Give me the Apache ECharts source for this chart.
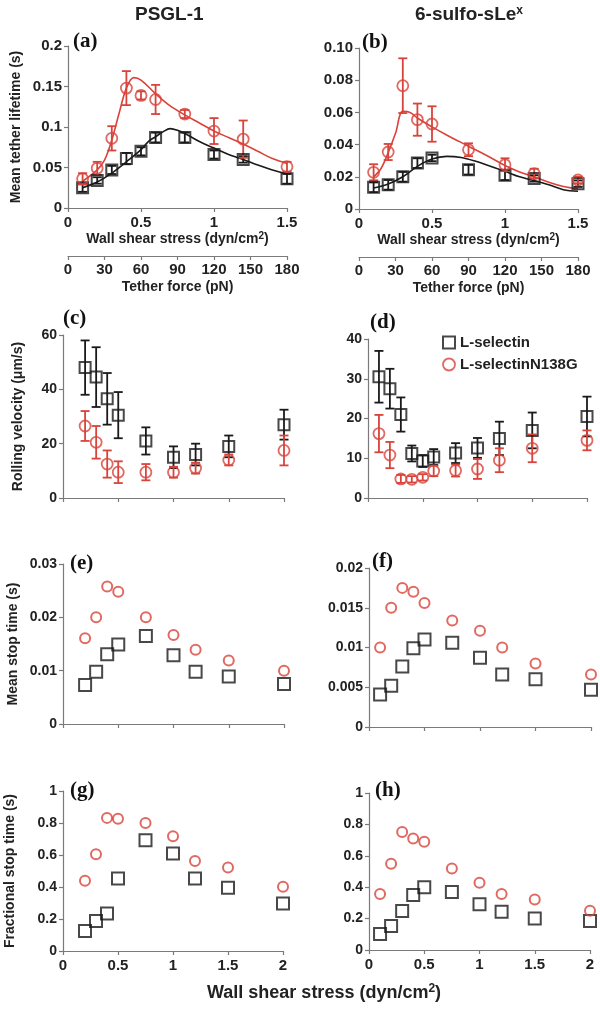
<!DOCTYPE html>
<html>
<head>
<meta charset="utf-8">
<script src="https://cdn.jsdelivr.net/npm/echarts@6/dist/echarts.min.js"></script>
<style>html,body{margin:0;padding:0;background:#fff}#c{width:600px;height:1009px}</style>
</head>
<body>
<div id="c"></div>
<script>
// ---------- DATA ----------
// (a) PSGL-1, mean tether lifetime (s)
const aX = [0.1,0.2,0.3,0.4,0.5,0.6,0.8,1.0,1.2,1.5];
const aBlack = [0.025,0.034,0.047,0.061,0.070,0.087,0.087,0.066,0.060,0.036];
const aBlackErr = [0.005,0.004,0.005,0.007,0.005,0.006,0.006,0.005,0.004,0.006];
const aRed = [0.036,0.049,0.086,0.148,0.139,0.134,0.116,0.095,0.085,0.051];
const aRedErr = [0.007,0.008,0.015,0.021,0.005,0.018,0.005,0.016,0.023,0.006];
const aRedCurveX = [0.1,0.2,0.25,0.3,0.35,0.4,0.45,0.5,0.6,0.7,0.8,0.9,1.0,1.1,1.2,1.3,1.4,1.5];
const aRedCurve = [0.033,0.047,0.059,0.084,0.117,0.148,0.161,0.158,0.141,0.126,0.115,0.105,0.095,0.087,0.079,0.070,0.061,0.055];
const aBlackCurveX = [0.1,0.2,0.3,0.4,0.5,0.55,0.6,0.65,0.7,0.75,0.8,0.9,1.0,1.1,1.2,1.3,1.4,1.5];
const aBlackCurve = [0.025,0.032,0.043,0.057,0.072,0.082,0.088,0.094,0.098,0.096,0.092,0.082,0.074,0.066,0.060,0.053,0.047,0.042];

// (b) 6-sulfo-sLex, mean tether lifetime (s)
const bX = [0.1,0.2,0.3,0.4,0.5,0.75,1.0,1.2,1.5];
const bBlack = [0.0135,0.015,0.020,0.0285,0.0317,0.0244,0.021,0.019,0.0157];
const bBlackErr = [0.003,0.003,0.003,0.003,0.002,0.003,0.003,0.002,0.002];
const bRed = [0.0228,0.0354,0.0766,0.0555,0.0528,0.0368,0.0275,0.022,0.018];
const bRedErr = [0.005,0.005,0.017,0.010,0.011,0.004,0.004,0.003,0.002];
const bRedCurveX = [0.1,0.15,0.2,0.25,0.3,0.35,0.4,0.5,0.6,0.75,0.9,1.0,1.1,1.2,1.3,1.4,1.5];
const bRedCurve = [0.020,0.025,0.035,0.047,0.0607,0.060,0.0565,0.051,0.046,0.039,0.032,0.027,0.023,0.020,0.0166,0.014,0.0126];
const bBlackCurveX = [0.1,0.2,0.3,0.4,0.5,0.6,0.7,0.8,0.9,1.0,1.1,1.2,1.3,1.4,1.5];
const bBlackCurve = [0.013,0.0155,0.020,0.0265,0.031,0.0327,0.032,0.0296,0.0265,0.0234,0.020,0.0176,0.015,0.012,0.011];

// (c) PSGL-1, rolling velocity (um/s)
const cX = [0.2,0.3,0.4,0.5,0.75,1.0,1.2,1.5,2.0];
const cBlack = [48,44.5,36.5,30.5,21,15,16,19,27];
const cBlackErr = [10,11,9.5,8.5,5,4,4,4,5.5];
const cRed = [26.5,20.5,12.5,9.5,9.5,9.5,11,14,17.5];
const cRedErr = [5.5,6,5,4,3,2,2,2,5.5];

// (d) 6-sulfo-sLex, rolling velocity (um/s)
const dX = [0.1,0.2,0.3,0.4,0.5,0.6,0.8,1.0,1.2,1.5,2.0];
const dBlack = [30.5,27.5,21,11.2,9.3,10.3,11.3,12.6,15,17,20.5];
const dBlackErr = [6.5,5,4.3,2,1.5,2,2.5,2.5,4.2,4.5,5];
const dRed = [16.2,10.8,4.8,4.7,5.2,6.8,6.9,7.3,9.5,12.5,14.5];
const dRedErr = [4.7,3.3,1,0.8,0.8,1.3,1.5,2.5,3,3.5,2.5];

// (e) PSGL-1, mean stop time (s)
const eX = [0.2,0.3,0.4,0.5,0.75,1.0,1.2,1.5,2.0];
const eBlack = [0.0073,0.0098,0.0131,0.0149,0.0165,0.0129,0.0098,0.0089,0.0075];
const eRed = [0.0161,0.0200,0.0258,0.0248,0.0200,0.0167,0.0139,0.0119,0.0100];

// (f) 6-sulfo-sLex, mean stop time (s)
const fX = [0.1,0.2,0.3,0.4,0.5,0.75,1.0,1.2,1.5,2.0];
const fBlack = [0.0041,0.0052,0.0076,0.0099,0.0110,0.0106,0.0087,0.0066,0.0060,0.0047];
const fRed = [0.0100,0.0150,0.0175,0.0170,0.0156,0.0134,0.0121,0.0100,0.0080,0.0066];

// (g) PSGL-1, fractional stop time
const gX = [0.2,0.3,0.4,0.5,0.75,1.0,1.2,1.5,2.0];
const gBlack = [0.125,0.187,0.235,0.453,0.692,0.609,0.453,0.395,0.297];
const gRed = [0.439,0.605,0.832,0.827,0.800,0.717,0.563,0.522,0.401];

// (h) 6-sulfo-sLex, fractional stop time
const hX = [0.1,0.2,0.3,0.4,0.5,0.75,1.0,1.2,1.5,2.0];
const hBlack = [0.102,0.153,0.248,0.350,0.400,0.370,0.292,0.244,0.200,0.184];
const hRed = [0.356,0.550,0.752,0.710,0.689,0.519,0.428,0.356,0.322,0.250];

const seriesNames = ['L-selectin','L-selectinN138G'];
const tetherTicks = [0,30,60,90,120,150,180];

// ---------- STYLE ----------
const BLACK = '#1a1a1a', RED = '#d8433b', AXIS = '#7a7a7a', TXT = '#222';
const FONT = '"Liberation Sans", Arial, sans-serif';
const num = v => String(Math.round(v*100000)/100000);

const chart = echarts.init(document.getElementById('c'), null, {renderer:'canvas'});

const grids = [
  {left:68, top:46, width:219, height:162},   // a
  {left:359, top:48, width:219, height:161},  // b
  {left:63, top:335, width:221, height:163},  // c
  {left:368, top:339, width:219, height:159}, // d
  {left:63, top:564, width:221, height:160},  // e
  {left:369, top:568, width:222, height:159}, // f
  {left:63, top:791, width:220, height:160},  // g
  {left:369, top:793, width:221, height:157}  // h
];

function xAx(gi, max, showLabels, name) {
  return {
    type:'value', gridIndex:gi, min:0, max:max, interval:0.5,
    axisLine:{lineStyle:{color:AXIS, width:1.2}},
    axisTick:{show:true, length:4, lineStyle:{color:AXIS, width:1.2}},
    splitLine:{show:false},
    axisLabel:{show:showLabels, formatter:num, color:TXT, fontFamily:FONT, fontWeight:'bold', fontSize:15, margin:7},
    name: name || '', nameLocation:'middle', nameGap:23,
    nameTextStyle:{color:TXT, fontFamily:FONT, fontWeight:'bold', fontSize:14,
      rich:{s:{fontSize:10, fontWeight:'bold', fontFamily:FONT, color:TXT, verticalAlign:'top', padding:[0,0,6,0]}}}
  };
}
function yAx(gi, max, interval, fmt, name, gap, fs) {
  return {
    type:'value', gridIndex:gi, min:0, max:max, interval:interval,
    axisLine:{show:true, lineStyle:{color:AXIS, width:1.2}},
    axisTick:{show:true, length:4, lineStyle:{color:AXIS, width:1.2}},
    splitLine:{show:false},
    axisLabel:{formatter:fmt||num, color:TXT, fontFamily:FONT, fontWeight:'bold', fontSize:fs||14, margin:6},
    name: name || '', nameLocation:'middle', nameGap:gap||40, nameRotate:90,
    nameTextStyle:{color:TXT, fontFamily:FONT, fontWeight:'bold', fontSize:14}
  };
}
const wss = '{n|Wall shear stress (dyn/cm}{s|2}{n|)}';

const xAxes = [
  xAx(0,1.5,true,wss), xAx(1,1.5,true,wss),
  xAx(2,2,false), xAx(3,2,false), xAx(4,2,false), xAx(5,2,false),
  xAx(6,2,true), xAx(7,2,true)
];
// make rich name style "n"
xAxes.forEach(a => { a.nameTextStyle.rich.n = {fontSize:14, fontWeight:'bold', fontFamily:FONT, color:TXT}; });
// secondary tether force axes for (a) and (b)
[0,1].forEach(gi => {
  xAxes.push({
    type:'value', gridIndex:gi, position:'bottom', offset:48, min:tetherTicks[0], max:tetherTicks[tetherTicks.length-1], interval:30,
    axisLine:{show:true, onZero:false, lineStyle:{color:AXIS, width:1.2}},
    axisTick:{show:true, length:4, lineStyle:{color:AXIS, width:1.2}},
    splitLine:{show:false},
    axisLabel:{color:TXT, fontFamily:FONT, fontWeight:'bold', fontSize:15, margin:6},
    name:'Tether force (pN)', nameLocation:'middle', nameGap:24,
    nameTextStyle:{color:TXT, fontFamily:FONT, fontWeight:'bold', fontSize:14}
  });
});

const yAxes = [
  yAx(0,0.2,0.05,null,'Mean tether lifetime (s)',45,15),
  yAx(1,0.10,0.02,v => v===0?'0':v.toFixed(2),'',40,15),
  yAx(2,60,20,null,'Rolling velocity (\u03bcm/s)',38),
  yAx(3,40,10,null,'',40),
  yAx(4,0.03,0.01,null,'Mean stop time (s)',43),
  yAx(5,0.02,0.005,null,'',40),
  yAx(6,1,0.2,null,'Fractional stop time (s)',46),
  yAx(7,1,0.2,null,'',40)
];

const zip = (xs, ys) => xs.map((x,i)=>[x, ys[i]]);
const zipErr = (xs, ys, es) => xs.map((x,i)=>[x, ys[i]-es[i], ys[i]+es[i]]);

function errSeries(gi, xs, ys, es, color) {
  return {
    type:'custom', xAxisIndex:gi, yAxisIndex:gi, silent:true, z:3,
    data: zipErr(xs, ys, es), encode:{x:0, y:[1,2]},
    renderItem: function(params, api) {
      const x = api.value(0), lo = api.value(1), hi = api.value(2);
      const p1 = api.coord([x, lo]), p2 = api.coord([x, hi]);
      const w = 4.5;
      const st = {stroke:color, lineWidth:1.8};
      return {type:'group', children:[
        {type:'line', shape:{x1:p1[0], y1:p1[1], x2:p2[0], y2:p2[1]}, style:st},
        {type:'line', shape:{x1:p1[0]-w, y1:p1[1], x2:p1[0]+w, y2:p1[1]}, style:st},
        {type:'line', shape:{x1:p2[0]-w, y1:p2[1], x2:p2[0]+w, y2:p2[1]}, style:st}
      ]};
    }
  };
}
function sq(gi, xs, ys, size) {
  return {type:'scatter', name:seriesNames[0], xAxisIndex:gi, yAxisIndex:gi, z:4,
    symbol:'rect', symbolSize:size||11, data:zip(xs, ys),
    itemStyle:{color:'rgba(255,255,255,0)', borderColor:BLACK, borderWidth:2}};
}
function circ(gi, xs, ys, size, bw) {
  return {type:'scatter', name:seriesNames[1], xAxisIndex:gi, yAxisIndex:gi, z:5,
    symbol:'circle', symbolSize:size||11, data:zip(xs, ys),
    itemStyle:{color:'rgba(255,255,255,0)', borderColor:RED, borderWidth:bw||1.8}};
}
function curve(gi, xs, ys, color) {
  return {type:'line', xAxisIndex:gi, yAxisIndex:gi, data:zip(xs, ys), smooth:0.35,
    showSymbol:false, silent:true, z:2, lineStyle:{color:color, width:1.6}};
}

const series = [
  curve(0, aBlackCurveX, aBlackCurve, BLACK), curve(0, aRedCurveX, aRedCurve, RED),
  errSeries(0, aX, aBlack, aBlackErr, BLACK), errSeries(0, aX, aRed, aRedErr, RED),
  sq(0, aX, aBlack), circ(0, aX, aRed),

  curve(1, bBlackCurveX, bBlackCurve, BLACK), curve(1, bRedCurveX, bRedCurve, RED),
  errSeries(1, bX, bBlack, bBlackErr, BLACK), errSeries(1, bX, bRed, bRedErr, RED),
  sq(1, bX, bBlack), circ(1, bX, bRed),

  errSeries(2, cX, cBlack, cBlackErr, BLACK), errSeries(2, cX, cRed, cRedErr, RED),
  sq(2, cX, cBlack), circ(2, cX, cRed),

  errSeries(3, dX, dBlack, dBlackErr, BLACK), errSeries(3, dX, dRed, dRedErr, RED),
  sq(3, dX, dBlack), circ(3, dX, dRed),

  sq(4, eX, eBlack, 12), circ(4, eX, eRed, 10, 2),
  sq(5, fX, fBlack, 12), circ(5, fX, fRed, 10, 2),
  sq(6, gX, gBlack, 12), circ(6, gX, gRed, 10, 2),
  sq(7, hX, hBlack, 12), circ(7, hX, hRed, 10, 2)
];

const letterStyle = {fontFamily:'"Liberation Serif", "Times New Roman", serif', fontWeight:'bold', fontSize:21, fill:'#111'};
const letters = [['(a)',73,31],['(b)',362,32],['(c)',63,308],['(d)',370,312],['(e)',70,553],['(f)',372,551],['(g)',70,780],['(h)',375,780]];

const graphic = letters.map(l => ({type:'text', left:l[1], top:l[2], style:Object.assign({text:l[0]}, letterStyle)}));
graphic.push({type:'text', left:135, top:5, style:{text:'PSGL-1', fontFamily:FONT, fontSize:19, fontWeight:'bold', fill:'#222'}});
graphic.push({type:'text', left:415, top:5, style:{text:'{n|6-sulfo-sLe}{s|x}', fontFamily:FONT, fontSize:19, fontWeight:'bold', fill:'#222',
  rich:{n:{fontFamily:FONT, fontSize:19, fontWeight:'bold', fill:'#222'}, s:{fontFamily:FONT, fontSize:12, fontWeight:'bold', fill:'#222', verticalAlign:'top', padding:[0,0,8,0]}}}});
graphic.push({type:'text', left:207, top:983, style:{text:'{n|Wall shear stress (dyn/cm}{s|2}{n|)}', fill:'#222',
  rich:{n:{fontFamily:FONT, fontSize:18, fontWeight:'bold', fill:'#222'}, s:{fontFamily:FONT, fontSize:12, fontWeight:'bold', fill:'#222', verticalAlign:'top', padding:[0,0,8,0]}}}});

chart.setOption({
  animation:false,
  backgroundColor:'#fff',
  grid: grids,
  xAxis: xAxes,
  yAxis: yAxes,
  legend: {
    orient:'vertical', left:437, top:330, itemGap:7, itemWidth:12, itemHeight:12,
    textStyle:{color:TXT, fontFamily:FONT, fontWeight:'bold', fontSize:15},
    data:[
      {name:seriesNames[0], icon:'rect', itemStyle:{color:'rgba(255,255,255,0)', borderColor:BLACK, borderWidth:2}},
      {name:seriesNames[1], icon:'circle', itemStyle:{color:'rgba(255,255,255,0)', borderColor:RED, borderWidth:1.8}}
    ]
  },
  graphic: graphic,
  series: series
});
</script>
</body>
</html>
